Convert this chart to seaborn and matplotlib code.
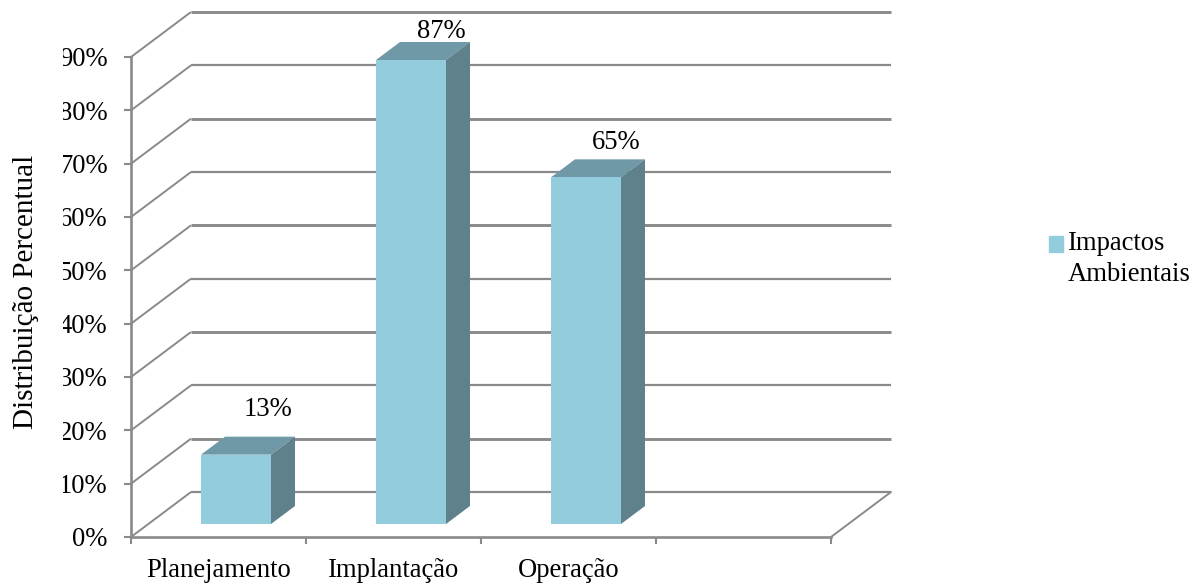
import matplotlib
matplotlib.use("Agg")
import matplotlib.pyplot as plt
import pandas as pd
import seaborn as sns
from matplotlib.patches import Patch
from matplotlib.transforms import Bbox, IdentityTransform, TransformedBbox

# Chart data
phases = ["Planejamento", "Implantação", "Operação"]
impacts = [13, 87, 65]
series_name = "Impactos\nAmbientais"
y_ticks = [0, 10, 20, 30, 40, 50, 60, 70, 80, 90]

W, H = 1202, 586
FRONT = "#93CDDD"
TOP = "#7099A8"
SIDE = "#5E818C"
GRID = "#8A8A8A"
TEXT_SIZE = 19.2

# Pseudo-3D geometry, in data units (1 x unit = one slot, 1 y unit = one percent)
px_x, px_y = 175.0, 480 / 90
floor_front = -13 / px_y      # front edge of the floor, below the bar feet
wall_dx, wall_dy = 60 / px_x, 45 / px_y
bar_dx, bar_dy = 24 / px_x, 18 / px_y
x_left = -0.6
x_right = x_left + 4

sns.set_theme(style="white", rc={"font.family": ["Liberation Serif", "DejaVu Serif"]})
fig = plt.figure(figsize=(W / 100, H / 100), dpi=100, facecolor="white")
ax_left, ax_right, ax_bottom, ax_top = 131, 891, 537, 12
ax = fig.add_axes([ax_left / W, 1 - ax_bottom / H, (ax_right - ax_left) / W, (ax_bottom - ax_top) / H])

df = pd.DataFrame({"fase": phases, "valor": impacts})
sns.barplot(data=df, x="fase", y="valor", order=phases, color=FRONT, saturation=1,
            width=0.4, ax=ax, zorder=4, legend=False, linewidth=0)

ax.set_xlim(x_left, x_left + (ax_right - ax_left) / px_x)
ax.set_ylim(floor_front, floor_front + (ax_bottom - ax_top) / px_y)

# Back wall, side wall and floor lines
for i, v in enumerate(y_ticks):
    y0 = floor_front + v
    lw = 2.1 if i % 2 == 1 else 1.6
    ax.plot([x_left, x_left + wall_dx], [y0, y0 + wall_dy],
            color=GRID, lw=1.4, zorder=1, clip_on=False, solid_capstyle="butt")
    ax.plot([x_left + wall_dx, x_right + wall_dx], [y0 + wall_dy, y0 + wall_dy],
            color=GRID, lw=lw, zorder=1, clip_on=False, solid_capstyle="butt")
ax.plot([x_right, x_right + wall_dx], [floor_front, floor_front + wall_dy],
        color=GRID, lw=1.4, zorder=1, clip_on=False)

# Top and side faces of every bar, plus the value labels
label_shift = [(0.185, 45), (0.175, 29), (0.17, 35)]
for pos, (val, shift) in enumerate(zip(impacts, label_shift)):
    x0, x1 = pos - 0.2, pos + 0.2
    ax.fill([x0, x1, x1 + bar_dx, x0 + bar_dx], [val, val, val + bar_dy, val + bar_dy],
            color=TOP, lw=0, zorder=3, clip_on=False)
    ax.fill([x1, x1 + bar_dx, x1 + bar_dx, x1], [0, bar_dy, val + bar_dy, val],
            color=SIDE, lw=0, zorder=3, clip_on=False)
    ax.text(pos + shift[0], val + shift[1] / px_y, f"{val}%", ha="center", va="center",
            fontsize=TEXT_SIZE, color="black", zorder=5, clip_on=False)

# Axes
for side in ("top", "right"):
    ax.spines[side].set_visible(False)
for side in ("left", "bottom"):
    ax.spines[side].set_color(GRID)
    ax.spines[side].set_linewidth(1.9)
ax.spines["left"].set_bounds(floor_front, floor_front + 90)
ax.spines["bottom"].set_bounds(x_left, x_right)

ax.set_yticks([floor_front + v for v in y_ticks], [f"{v}%" for v in y_ticks])
ax.tick_params(axis="y", length=5, width=1.5, color=GRID, pad=12, labelsize=TEXT_SIZE,
               labelcolor="black", left=True)

ax.set_xticks([x_left + i for i in range(5)], [""] * 5)
ax.set_xticks([x_left + 0.5 + i for i in range(3)], phases, minor=True)
ax.tick_params(axis="x", which="major", length=5, width=1.5, color=GRID, bottom=True)
ax.tick_params(axis="x", which="minor", length=0, pad=15, labelsize=TEXT_SIZE, labelcolor="black")
ax.set_xlabel("")
ax.set_ylabel("")

fig.text(26.5 / W, 1 - 292 / H, "Distribuição Percentual", rotation=90, ha="center", va="center",
         fontsize=21, color="black")

# The tick labels are cut off by the chart frame on their left side
frame = TransformedBbox(Bbox([[63, 0], [W, H]]), IdentityTransform())
for lab in ax.get_yticklabels():
    lab.set_clip_on(True)
    lab.set_clip_box(frame)

leg = ax.legend(handles=[Patch(color=FRONT, label=series_name)], loc="center left",
                bbox_to_anchor=(1049 / W, 1 - 259 / H), bbox_transform=fig.transFigure,
                frameon=False, fontsize=TEXT_SIZE, handlelength=0.52, handleheight=0.52,
                handletextpad=0.19, borderpad=0, borderaxespad=0, labelspacing=0)
for t in leg.get_texts():
    t.set_color("black")
    t.set_linespacing(1.33)
leg.legend_handles[0].set_y(leg.legend_handles[0].get_y() + 11)

fig.savefig("out.png", dpi=100, facecolor="white")
